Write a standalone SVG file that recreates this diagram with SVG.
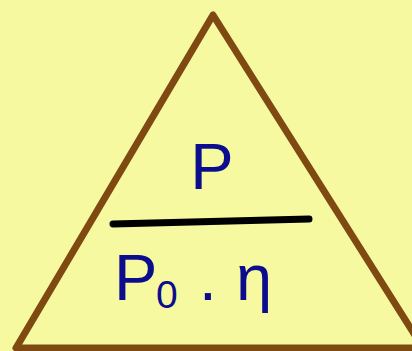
<svg xmlns="http://www.w3.org/2000/svg" width="412" height="351" viewBox="0 0 412 351">
  <style>
    .t { font-family: "Liberation Sans", Arial, sans-serif; fill: #0c0c8e; }
  </style>
  <rect x="0" y="0" width="412" height="351" fill="#f6f99f"/>
  <g id="triangle">
    <polygon points="213,15 16,348 423,348" fill="none" stroke="#7e4a12" stroke-width="7" stroke-linejoin="round"/>
  </g>
  <g id="formula">
    <text class="t" x="212" y="189" font-size="65" text-anchor="middle">P</text>
    <line x1="113" y1="224" x2="309" y2="219" stroke="#000" stroke-width="7" stroke-linecap="round"/>
    <text class="t" x="114" y="300" font-size="65">P</text>
    <text class="t" x="156" y="308" font-size="39">0</text>
    <text class="t" x="199" y="300" font-size="64">.</text>
    <text class="t" x="236" y="300" font-size="65">η</text>
  </g>
</svg>
